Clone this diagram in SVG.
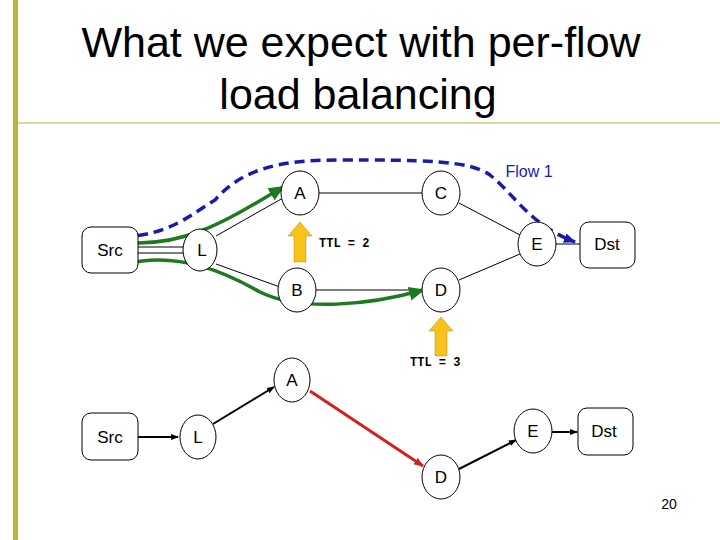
<svg xmlns="http://www.w3.org/2000/svg" width="720" height="540" viewBox="0 0 720 540">
<style>
.n{fill:#fff;stroke:#000;stroke-width:1}
.t{font-family:"Liberation Sans",Arial,sans-serif;font-size:17px;text-anchor:middle}
.ttl{font-family:"Liberation Mono",monospace;font-size:12px;font-weight:bold}
.l{stroke:#000;stroke-width:1;fill:none}
.a{stroke:#000;stroke-width:2;fill:none;marker-end:url(#ba)}
</style>
<defs>
<marker id="ba" markerWidth="8" markerHeight="8" refX="7" refY="4" orient="auto" markerUnits="userSpaceOnUse"><path d="M0,1 L8,4 L0,7Z" fill="#000"/></marker>
<marker id="ra" markerWidth="10" markerHeight="10" refX="9" refY="5" orient="auto" markerUnits="userSpaceOnUse"><path d="M0,1 L10,5 L0,9Z" fill="#d32020"/></marker>
<marker id="ga" markerWidth="16" markerHeight="16" refX="14" refY="8" orient="auto" markerUnits="userSpaceOnUse"><path d="M0,1 L16,8 L0,15Z" fill="#1f7a1f"/></marker>
<marker id="bl" markerWidth="12" markerHeight="12" refX="11" refY="6" orient="auto" markerUnits="userSpaceOnUse"><path d="M0,1 L12,6 L0,11Z" fill="#1a1ab0"/></marker>
</defs>
<rect width="720" height="540" fill="#fff"/>
<rect x="13" y="0" width="5" height="540" fill="#b5b53a"/>
<line x1="18" y1="123" x2="720" y2="123" stroke="#b5b53a" stroke-width="1"/>
<text x="361" y="57" font-family="'Liberation Sans',Arial,sans-serif" font-size="43" text-anchor="middle">What we expect with per-flow</text>
<text x="358" y="109" font-family="'Liberation Sans',Arial,sans-serif" font-size="43" text-anchor="middle">load balancing</text>
<g id="connectors">
<line class="l" x1="138" y1="247" x2="184" y2="247"/>
<line class="l" x1="138" y1="253" x2="184" y2="253"/>
<line class="l" x1="216" y1="236" x2="283" y2="198"/>
<line class="l" x1="216" y1="264" x2="280" y2="287"/>
<line class="l" x1="319" y1="193" x2="422" y2="193"/>
<line class="l" x1="316" y1="290" x2="422" y2="290"/>
<line class="l" x1="459" y1="203" x2="520" y2="235"/>
<line class="l" x1="459" y1="280" x2="520" y2="254"/>
<line class="l" x1="556" y1="244" x2="580" y2="244"/>
<line class="a" x1="138" y1="437" x2="178" y2="437"/>
<line class="a" x1="213" y1="424" x2="274" y2="387"/>
<line x1="310" y1="391" x2="423" y2="466" stroke="#d32020" stroke-width="3" marker-end="url(#ra)"/>
<line class="a" x1="459" y1="469" x2="516" y2="440"/>
<line class="a" x1="551" y1="432" x2="577" y2="432"/>
<path d="M122,237 C170,235 190,215 215,200 C245,165 290,160 340,160 C420,160 470,160 490,175 C515,195 530,225 575,242" stroke="#1a1ab0" stroke-width="3.5" stroke-dasharray="10,6" fill="none" marker-end="url(#bl)"/>
<path d="M122,242 C180,248 220,225 283,187" stroke="#1f7a1f" stroke-width="3.5" fill="none" marker-end="url(#ga)"/>
<path d="M126,264 C180,250 230,275 260,292 C300,312 370,305 423,290" stroke="#1f7a1f" stroke-width="3.5" fill="none" marker-end="url(#ga)"/>
</g>
<g id="src1"><rect class="n" x="82" y="227" width="56" height="46" rx="9"/><text class="t" x="110" y="256">Src</text></g>
<g id="l1"><ellipse class="n" cx="200" cy="250" rx="17" ry="21"/><text class="t" x="202" y="256">L</text></g>
<g id="a1"><ellipse class="n" cx="300" cy="193" rx="19" ry="22"/><text class="t" x="300" y="199">A</text></g>
<g id="c1"><ellipse class="n" cx="441" cy="193" rx="19" ry="22"/><text class="t" x="441" y="199">C</text></g>
<g id="b1"><ellipse class="n" cx="297" cy="290" rx="19" ry="22"/><text class="t" x="297" y="296">B</text></g>
<g id="d1"><ellipse class="n" cx="441" cy="290" rx="19" ry="22"/><text class="t" x="441" y="296">D</text></g>
<g id="e1"><ellipse class="n" cx="537" cy="244" rx="19" ry="22"/><text class="t" x="537" y="250">E</text></g>
<g id="dst1"><rect class="n" x="580" y="222" width="55" height="46" rx="9"/><text class="t" x="607" y="250">Dst</text></g>
<g id="arrow1"><path d="M300,222 L312,236 L306,236 L306,262 L294,262 L294,236 L288,236Z" fill="#f7c21b" stroke="#b08a10" stroke-width="0.5"/><text class="ttl" x="319" y="247">TTL = 2</text></g>
<g id="arrow2"><path d="M441,317 L453,331 L447,331 L447,356 L435,356 L435,331 L429,331Z" fill="#f7c21b" stroke="#b08a10" stroke-width="0.5"/><text class="ttl" x="410" y="366">TTL = 3</text></g>
<text x="529" y="177" font-family="'Liberation Sans',Arial,sans-serif" font-size="16" fill="#1a1ab0" text-anchor="middle">Flow 1</text>
<g id="src2"><rect class="n" x="82" y="413" width="56" height="47" rx="9"/><text class="t" x="110" y="443">Src</text></g>
<g id="l2"><ellipse class="n" cx="198" cy="437" rx="18" ry="22"/><text class="t" x="198" y="443">L</text></g>
<g id="a2"><ellipse class="n" cx="292" cy="380" rx="18" ry="22"/><text class="t" x="292" y="386">A</text></g>
<g id="d2"><ellipse class="n" cx="441" cy="477" rx="19" ry="22"/><text class="t" x="441" y="483">D</text></g>
<g id="e2"><ellipse class="n" cx="533" cy="431" rx="19" ry="22"/><text class="t" x="533" y="437">E</text></g>
<g id="dst2"><rect class="n" x="578" y="408" width="55" height="47" rx="9"/><text class="t" x="604" y="437">Dst</text></g>
<text x="669" y="509" font-family="'Liberation Sans',Arial,sans-serif" font-size="14" text-anchor="middle">20</text>
</svg>
